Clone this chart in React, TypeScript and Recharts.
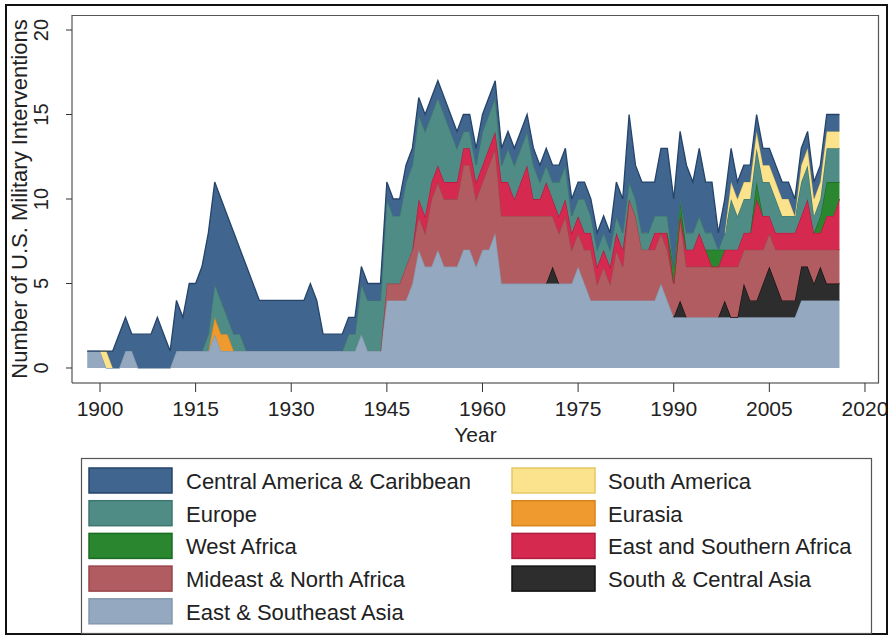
import { AreaChart, Area, XAxis, YAxis } from "recharts";

const FONT = "'Liberation Sans', Arial, Helvetica, sans-serif";

const FIRST_YEAR = 1898;
const X_TICKS = [1900, 1915, 1930, 1945, 1960, 1975, 1990, 2005, 2020];
const Y_TICKS = [0, 5, 10, 15, 20];

// interventions per year, 1898 .. 2016 (first row is 1898-99, then one row per decade)
const EAST_SE_ASIA = [
  1, 1,
  1, 0, 0, 0, 1, 1, 0, 0, 0, 0,
  0, 0, 1, 1, 1, 1, 1, 1, 2, 1,
  1, 1, 1, 1, 1, 1, 1, 1, 1, 1,
  1, 1, 1, 1, 1, 1, 1, 1, 1, 1,
  1, 2, 1, 1, 1, 4, 4, 4, 4, 5,
  7, 6, 6, 7, 6, 6, 6, 7, 7, 6,
  7, 7, 8, 5, 5, 5, 5, 5, 5, 5,
  5, 5, 5, 5, 5, 6, 5, 4, 4, 4,
  4, 4, 4, 4, 4, 4, 4, 4, 5, 4,
  3, 3, 3, 3, 3, 3, 3, 3, 3, 3,
  3, 3, 3, 3, 3, 3, 3, 3, 3, 3,
  4, 4, 4, 4, 4, 4, 4,
];

const SOUTH_CENTRAL_ASIA = [
  0, 0,
  0, 0, 0, 0, 0, 0, 0, 0, 0, 0,
  0, 0, 0, 0, 0, 0, 0, 0, 0, 0,
  0, 0, 0, 0, 0, 0, 0, 0, 0, 0,
  0, 0, 0, 0, 0, 0, 0, 0, 0, 0,
  0, 0, 0, 0, 0, 0, 0, 0, 0, 0,
  0, 0, 0, 0, 0, 0, 0, 0, 0, 0,
  0, 0, 0, 0, 0, 0, 0, 0, 0, 0,
  0, 1, 0, 0, 0, 0, 0, 0, 0, 0,
  0, 0, 0, 0, 0, 0, 0, 0, 0, 0,
  0, 1, 0, 0, 0, 0, 0, 0, 1, 0,
  0, 2, 1, 1, 2, 3, 2, 1, 1, 1,
  2, 2, 1, 2, 1, 1, 1,
];

const MIDEAST_N_AFRICA = [
  0, 0,
  0, 0, 0, 0, 0, 0, 0, 0, 0, 0,
  0, 0, 0, 0, 0, 0, 0, 0, 0, 0,
  0, 0, 0, 0, 0, 0, 0, 0, 0, 0,
  0, 0, 0, 0, 0, 0, 0, 0, 0, 0,
  0, 0, 0, 0, 0, 1, 1, 1, 2, 2,
  2, 2, 4, 4, 4, 4, 4, 5, 5, 4,
  4, 5, 5, 4, 4, 4, 4, 4, 4, 4,
  4, 3, 3, 4, 2, 2, 2, 3, 1, 2,
  1, 3, 2, 6, 5, 3, 3, 3, 3, 3,
  2, 5, 3, 3, 3, 3, 3, 3, 2, 3,
  3, 2, 3, 3, 2, 2, 2, 3, 3, 3,
  1, 1, 2, 1, 2, 2, 2,
];

const E_S_AFRICA = [
  0, 0,
  0, 0, 0, 0, 0, 0, 0, 0, 0, 0,
  0, 0, 0, 0, 0, 0, 0, 0, 0, 0,
  0, 0, 0, 0, 0, 0, 0, 0, 0, 0,
  0, 0, 0, 0, 0, 0, 0, 0, 0, 0,
  0, 0, 0, 0, 0, 0, 0, 0, 0, 0,
  1, 1, 1, 1, 1, 1, 1, 1, 1, 1,
  1, 1, 1, 2, 2, 1, 2, 3, 1, 1,
  2, 1, 1, 1, 1, 1, 1, 1, 1, 1,
  1, 1, 1, 0, 0, 0, 0, 1, 0, 1,
  0, 0, 1, 1, 2, 1, 0, 0, 1, 1,
  1, 1, 1, 3, 2, 1, 1, 1, 1, 1,
  2, 3, 1, 1, 2, 2, 3,
];

const WEST_AFRICA = [
  0, 0,
  0, 0, 0, 0, 0, 0, 0, 0, 0, 0,
  0, 0, 0, 0, 0, 0, 0, 0, 0, 0,
  0, 0, 0, 0, 0, 0, 0, 0, 0, 0,
  0, 0, 0, 0, 0, 0, 0, 0, 0, 0,
  0, 0, 0, 0, 0, 0, 0, 0, 0, 0,
  0, 0, 0, 0, 0, 0, 0, 0, 0, 0,
  0, 0, 0, 0, 0, 0, 0, 0, 0, 0,
  0, 0, 0, 0, 0, 0, 0, 0, 0, 0,
  0, 0, 0, 0, 0, 0, 0, 0, 0, 0,
  1, 1, 0, 0, 0, 0, 1, 1, 0, 0,
  0, 0, 0, 1, 0, 0, 0, 0, 0, 0,
  0, 0, 0, 1, 2, 2, 1,
];

const EURASIA = [
  0, 0,
  0, 0, 0, 0, 0, 0, 0, 0, 0, 0,
  0, 0, 0, 0, 0, 0, 0, 0, 1, 1,
  1, 0, 0, 0, 0, 0, 0, 0, 0, 0,
  0, 0, 0, 0, 0, 0, 0, 0, 0, 0,
  0, 0, 0, 0, 0, 0, 0, 0, 0, 0,
  0, 0, 0, 0, 0, 0, 0, 0, 0, 0,
  0, 0, 0, 0, 0, 0, 0, 0, 0, 0,
  0, 0, 0, 0, 0, 0, 0, 0, 0, 0,
  0, 0, 0, 0, 0, 0, 0, 0, 0, 0,
  0, 0, 0, 0, 0, 0, 0, 0, 0, 0,
  0, 0, 0, 0, 0, 0, 0, 0, 0, 0,
  0, 0, 0, 0, 0, 0, 0,
];

const EUROPE = [
  0, 0,
  0, 0, 0, 0, 0, 0, 0, 0, 0, 0,
  0, 0, 0, 0, 0, 0, 0, 1, 2, 2,
  1, 1, 1, 0, 0, 0, 0, 0, 0, 0,
  0, 0, 0, 0, 0, 0, 0, 0, 0, 1,
  1, 3, 3, 3, 3, 5, 4, 4, 5, 5,
  5, 5, 4, 4, 4, 3, 2, 1, 1, 1,
  2, 2, 2, 1, 2, 2, 2, 2, 2, 1,
  1, 1, 2, 2, 1, 1, 2, 1, 1, 1,
  1, 1, 1, 1, 1, 1, 1, 1, 1, 1,
  0, 0, 1, 1, 1, 1, 1, 0, 1, 3,
  2, 2, 2, 2, 2, 2, 2, 1, 1, 1,
  2, 2, 1, 1, 2, 2, 2,
];

const SOUTH_AMERICA = [
  0, 0,
  0, 1, 0, 0, 0, 0, 0, 0, 0, 0,
  0, 0, 0, 0, 0, 0, 0, 0, 0, 0,
  0, 0, 0, 0, 0, 0, 0, 0, 0, 0,
  0, 0, 0, 0, 0, 0, 0, 0, 0, 0,
  0, 0, 0, 0, 0, 0, 0, 0, 0, 0,
  0, 0, 0, 0, 0, 0, 0, 0, 0, 0,
  0, 0, 0, 0, 0, 0, 0, 0, 0, 0,
  0, 0, 0, 0, 0, 0, 0, 0, 0, 0,
  0, 0, 0, 0, 0, 0, 0, 0, 0, 0,
  0, 0, 0, 0, 0, 0, 0, 0, 0, 1,
  1, 1, 1, 1, 1, 1, 1, 1, 1, 0,
  1, 1, 1, 1, 1, 1, 1,
];

const CENTRAL_AMERICA = [
  0, 0,
  0, 0, 1, 2, 2, 1, 2, 2, 2, 3,
  2, 1, 3, 2, 4, 4, 5, 6, 6, 6,
  6, 6, 5, 5, 4, 3, 3, 3, 3, 3,
  3, 3, 3, 4, 3, 1, 1, 1, 1, 1,
  1, 1, 1, 1, 1, 1, 1, 1, 1, 1,
  1, 1, 1, 1, 1, 1, 1, 1, 1, 1,
  1, 1, 1, 1, 1, 1, 1, 1, 1, 1,
  1, 1, 1, 1, 1, 1, 1, 1, 1, 1,
  1, 2, 2, 4, 2, 3, 3, 2, 4, 4,
  4, 4, 4, 3, 4, 3, 3, 1, 2, 2,
  1, 1, 1, 1, 1, 1, 1, 1, 1, 1,
  1, 1, 1, 1, 1, 1, 1,
];

// stacking order, bottom to top
const SERIES = [
  { key: "eastAsia", name: "East & Southeast Asia", values: EAST_SE_ASIA, fill: "#94a9bf", stroke: "#8599af", solid: true },
  { key: "southAsia", name: "South & Central Asia", values: SOUTH_CENTRAL_ASIA, fill: "#2d2d2d", stroke: "#111111" },
  { key: "mideast", name: "Mideast & North Africa", values: MIDEAST_N_AFRICA, fill: "#b05c61", stroke: "#98454b" },
  { key: "esAfrica", name: "East and Southern Africa", values: E_S_AFRICA, fill: "#d6294f", stroke: "#b01c40" },
  { key: "westAfrica", name: "West Africa", values: WEST_AFRICA, fill: "#2a8730", stroke: "#1b6b22" },
  { key: "eurasia", name: "Eurasia", values: EURASIA, fill: "#ef9a2e", stroke: "#d8841c" },
  { key: "europe", name: "Europe", values: EUROPE, fill: "#4f8c85", stroke: "#3d766f" },
  { key: "southAmerica", name: "South America", values: SOUTH_AMERICA, fill: "#fbe28c", stroke: "#e6c966" },
  { key: "centralAmerica", name: "Central America & Caribbean", values: CENTRAL_AMERICA, fill: "#40658e", stroke: "#25446a", solid: true },
];

const LEGEND_LEFT = ["centralAmerica", "europe", "westAfrica", "mideast", "eastAsia"];
const LEGEND_RIGHT = ["southAmerica", "eurasia", "esAfrica", "southAsia"];

// leave a gap where a region is absent, but keep the zero next to a non-zero year
function present(values: number[], i: number) {
  const v = values[i];
  if (v > 0 || (values[i - 1] ?? 0) > 0 || (values[i + 1] ?? 0) > 0) return v;
  return null;
}

const ROWS = EAST_SE_ASIA.map((_, i) => {
  const row: Record<string, number | null> = { year: FIRST_YEAR + i };
  SERIES.forEach((s) => {
    row[s.key] = s.solid ? s.values[i] : present(s.values, i);
  });
  return row;
});

// eslint-disable-next-line @typescript-eslint/no-explicit-any
function YTick(props: any) {
  const { x, y, payload } = props;
  return (
    <text
      x={x}
      y={y}
      transform={`rotate(-90 ${x} ${y})`}
      textAnchor="middle"
      fontSize={20}
      fill="#222"
      fontFamily={FONT}
    >
      {payload.value}
    </text>
  );
}

function LegendColumn({ keys, swatchX, textX }: { keys: string[]; swatchX: number; textX: number }) {
  return (
    <g>
      {keys.map((k, i) => {
        const s = SERIES.find((d) => d.key === k)!;
        const top = 468 + i * 32.7;
        return (
          <g key={k}>
            <rect x={swatchX} y={top} width={83} height={25} fill={s.fill} stroke={s.stroke} strokeWidth={1.5} />
            <text x={textX} y={top + 21} fontSize={22} fill="#222" fontFamily={FONT}>
              {s.name}
            </text>
          </g>
        );
      })}
    </g>
  );
}

export default function App() {
  return (
    <div style={{ position: "absolute", left: 0, top: 0, width: 889, height: 636, background: "#fff" }}>
      <AreaChart
        width={889}
        height={636}
        data={ROWS}
        margin={{ top: 15, right: 10, left: 8, bottom: 193 }}
      >
        <XAxis
          type="number"
          dataKey="year"
          domain={[1895.61, 2022.2]}
          allowDataOverflow
          ticks={X_TICKS}
          interval={0}
          height={60}
          tickSize={9}
          tickMargin={9}
          stroke="#333"
          tick={{ fontSize: 21, fill: "#222", fontFamily: FONT }}
        />
        <YAxis
          domain={[-0.888, 20.888]}
          allowDataOverflow
          ticks={Y_TICKS}
          interval={0}
          width={64}
          tickSize={6}
          tickMargin={18}
          stroke="#333"
          tick={<YTick />}
        />
        {SERIES.map((s) => (
          <Area
            key={s.key}
            type="linear"
            dataKey={s.key}
            name={s.name}
            stackId="regions"
            fill={s.fill}
            fillOpacity={1}
            stroke={s.stroke}
            strokeWidth={1.3}
            dot={false}
            activeDot={false}
            isAnimationActive={false}
          />
        ))}
      </AreaChart>

      <svg
        width={889}
        height={636}
        style={{ position: "absolute", left: 0, top: 0, pointerEvents: "none" }}
      >
        <rect x={6} y={5} width={881} height={629} fill="none" stroke="#111" strokeWidth={2} />
        <path d="M72 15.5 H878.5 V383" fill="none" stroke="#555" strokeWidth={1.2} />
        <text
          x={27}
          y={199}
          transform="rotate(-90 27 199)"
          textAnchor="middle"
          fontSize={22}
          fill="#222"
          fontFamily={FONT}
        >
          Number of U.S. Military Interventions
        </text>
        <text x={475.5} y={442} textAnchor="middle" fontSize={21} fill="#222" fontFamily={FONT}>
          Year
        </text>
        <rect x={81.5} y={458.5} width={790} height={175} fill="#fff" stroke="#555" strokeWidth={1.2} />
        <LegendColumn keys={LEGEND_LEFT} swatchX={89} textX={186} />
        <LegendColumn keys={LEGEND_RIGHT} swatchX={512} textX={608} />
      </svg>
    </div>
  );
}
